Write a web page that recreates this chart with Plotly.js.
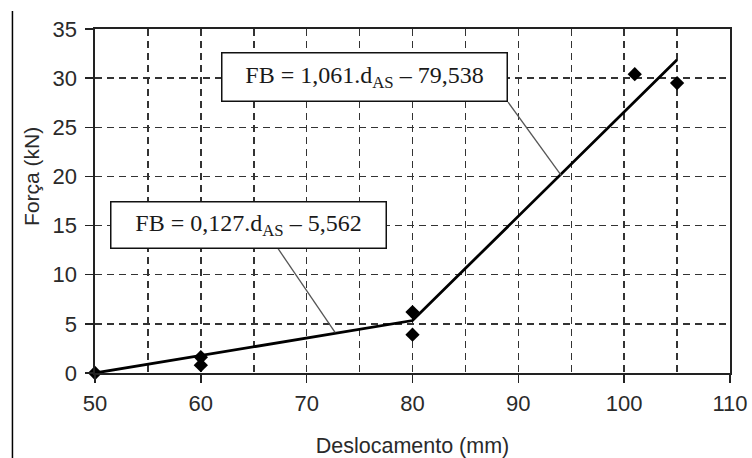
<!DOCTYPE html>
<html>
<head>
<meta charset="utf-8">
<script src="https://cdn.plot.ly/plotly-3.0.1.min.js"></script>
<style>html,body{margin:0;padding:0;background:#fff;}#chart{width:752px;height:458px;}</style>
</head>
<body>
<div id="chart"></div>
<script>
// Measured points
const dispPoints = [50, 60, 60, 80, 80, 101, 105];
const forcePoints = [0, 0.8, 1.6, 3.9, 6.2, 30.4, 29.5];
// Bilinear fit
const fitX = [50, 80, 105];
const fitY = [0, 5.34, 31.87];
// Equation labels
const eqTexts = ["FB = 1,061.d<sub>AS</sub> – 79,538", "FB = 0,127.d<sub>AS</sub> – 5,562"];
const xTickVals = [50, 60, 70, 80, 90, 100, 110];
const yTickVals = [0, 5, 10, 15, 20, 25, 30, 35];
const xTitle = 'Deslocamento (mm)';
const yTitle = 'Força (kN)';

const traces = [
  {x: fitX, y: fitY, mode: 'lines', line: {color: '#000', width: 2.8}, hoverinfo: 'skip', cliponaxis: false},
  {x: dispPoints, y: forcePoints, mode: 'markers', marker: {symbol: 'diamond', size: 11, color: '#000'}, cliponaxis: false}
];

const gridStyle = {gridcolor: '#333', gridwidth: 1.5, griddash: '7px,5px'};
const tickFont = {family: 'Liberation Sans, Arial, sans-serif', size: 22, color: '#2a2a2a'};

const axisCommon = Object.assign({
  showline: true, linecolor: '#222', linewidth: 1.6, mirror: true,
  ticks: 'outside', ticklen: 8, tickwidth: 1.4, tickcolor: '#222',
  showgrid: true, zeroline: false, tickfont: tickFont
}, gridStyle);

const layout = {
  width: 752, height: 458,
  margin: {l: 95, r: 22, t: 29, b: 85},
  paper_bgcolor: '#fff', plot_bgcolor: '#fff',
  showlegend: false,
  xaxis: Object.assign({}, axisCommon, {
    range: [50, 110], tickvals: xTickVals, ticklabelstandoff: 2,
    minor: Object.assign({dtick: 5, tick0: 50, showgrid: true, ticks: ''}, gridStyle),
    title: {text: xTitle, standoff: 23, font: {family: 'Liberation Sans, Arial, sans-serif', size: 21.5, color: '#2a2a2a'}}
  }),
  yaxis: Object.assign({}, axisCommon, {
    range: [0, 35], tickvals: yTickVals, ticklabelstandoff: 4
  }),
  shapes: [
    {type: 'line', xref: 'paper', yref: 'paper', x0: -0.13, x1: -0.13, y0: 1.052, y1: -0.25, line: {color: '#000', width: 1.5}},
    {type: 'line', xref: 'x', yref: 'y', x0: 89.03, y0: 27.55, x1: 94.05, y1: 20.1, line: {color: '#555', width: 1.3}},
    {type: 'line', xref: 'x', yref: 'y', x0: 67.3, y0: 12.65, x1: 72.7, y1: 4.1, line: {color: '#555', width: 1.3}}
  ],
  annotations: [
    {x: 75.5, y: 30.15, xref: 'x', yref: 'y', text: eqTexts[0], showarrow: false,
     xanchor: 'center', yanchor: 'middle', width: 284, height: 47, borderpad: 0,
     bgcolor: '#fff', bordercolor: '#111', borderwidth: 1.5,
     font: {family: 'Liberation Serif, Times New Roman, serif', size: 24, color: '#1a1a1a'}},
    {x: 64.5, y: 15.05, xref: 'x', yref: 'y', text: eqTexts[1], showarrow: false,
     xanchor: 'center', yanchor: 'middle', width: 274, height: 45, borderpad: 0,
     bgcolor: '#fff', bordercolor: '#111', borderwidth: 1.5,
     font: {family: 'Liberation Serif, Times New Roman, serif', size: 24, color: '#1a1a1a'}},
    {x: -0.1, y: 20, xref: 'paper', yref: 'y', text: yTitle, showarrow: false, textangle: -90,
     xanchor: 'center', yanchor: 'middle',
     font: {family: 'Liberation Sans, Arial, sans-serif', size: 21, color: '#2a2a2a'}}
  ]
};

Plotly.newPlot('chart', traces, layout, {displayModeBar: false, staticPlot: true});
</script>
</body>
</html>
